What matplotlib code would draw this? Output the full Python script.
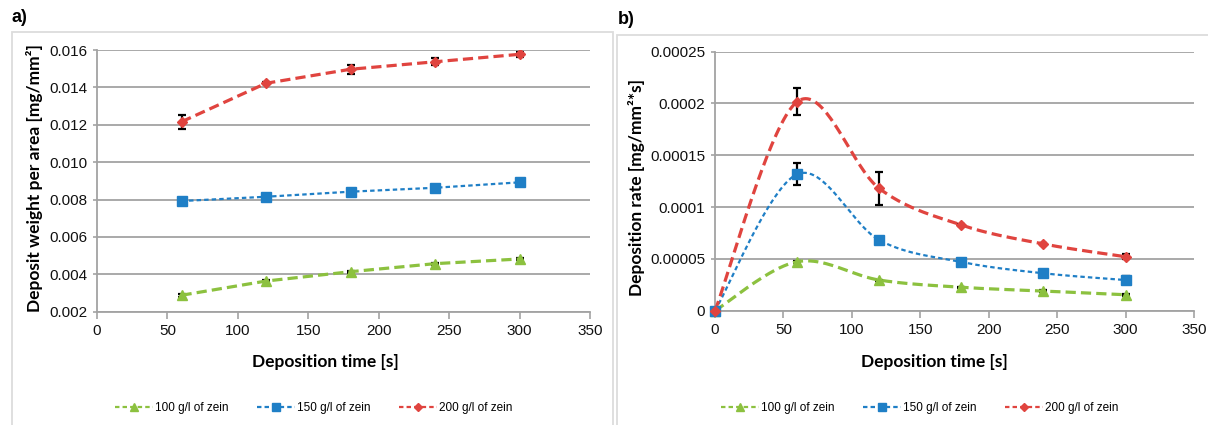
import numpy as np
import matplotlib
matplotlib.use("Agg")
import matplotlib.pyplot as plt
from matplotlib.patches import Rectangle
from matplotlib.lines import Line2D

# ---------------- data ----------------
time_a = [60, 120, 180, 240, 300]
w100 = [0.00288, 0.00364, 0.00414, 0.00457, 0.00482]
w150 = [0.00792, 0.00815, 0.00842, 0.00863, 0.00892]
w200 = [0.01216, 0.01422, 0.01497, 0.01537, 0.01577]
w100_err = [0.00008, 0.00004, 0.00005, 0.00006, 0.00006]
w150_err = [0.00008, 0.00006, 0.00006, 0.00006, 0.00008]
w200_err = [0.00036, 0.00005, 0.00025, 0.00018, 0.00012]

time_b = [0, 60, 120, 180, 240, 300]
r100 = [0.0, 0.0000473, 0.0000296, 0.0000226, 0.0000190, 0.0000154]
r150 = [0.0, 0.0001317, 0.0000682, 0.0000470, 0.0000361, 0.0000296]
r200 = [0.0, 0.0002017, 0.0001180, 0.0000827, 0.0000644, 0.0000521]
r100_err = [0.0, 0.0000010, 0.0000005, 0.0000005, 0.0000012, 0.0000012]
r150_err = [0.0, 0.0000106, 0.0000010, 0.0000010, 0.0000010, 0.0000035]
r200_err = [0.0, 0.0000129, 0.0000163, 0.0000010, 0.0000010, 0.0000025]

labels = ["100 g/l of zein", "150 g/l of zein", "200 g/l of zein"]
yticks_a = [0.002, 0.004, 0.006, 0.008, 0.010, 0.012, 0.014, 0.016]
yticks_b = [0, 0.00005, 0.0001, 0.00015, 0.0002, 0.00025]
yticklabels_b = ["0", "0.00005", "0.0001", "0.00015", "0.0002", "0.00025"]
xticks = [0, 50, 100, 150, 200, 250, 300, 350]

# ---------------- styles ----------------
GREEN = "#8cc13f"
BLUE = "#1f7fc6"
RED = "#e0443f"
GRID = "#a3a3a3"
TICKFONT = "Liberation Sans"
LABELFONT = ["Lato", "DejaVu Sans"]

styles = [
    dict(color=GREEN, marker="^", ms=6.5, lw=2.3, dashes=(3.2, 1.6)),
    dict(color=BLUE, marker="s", ms=7, lw=1.6, dashes=(2.0, 1.4)),
    dict(color=RED, marker="D", ms=5, lw=2.3, dashes=(3.2, 1.6)),
]


def excel_smooth(x, y, n=40):
    """Smooth curve through points using Catmull-Rom style Bezier (like Excel)."""
    x = np.asarray(x, float)
    y = np.asarray(y, float)
    P = np.column_stack([x, y])
    out = []
    m = len(P)
    for i in range(m - 1):
        p0 = P[i - 1] if i > 0 else P[i]
        p1 = P[i]
        p2 = P[i + 1]
        p3 = P[i + 2] if i + 2 < m else P[i + 1]
        c1 = p1 + (p2 - p0) / 6.0
        c2 = p2 - (p3 - p1) / 6.0
        t = np.linspace(0, 1, n)[:, None]
        seg = ((1 - t) ** 3) * p1 + 3 * ((1 - t) ** 2) * t * c1 + 3 * (1 - t) * t ** 2 * c2 + t ** 3 * p2
        if i > 0:
            seg = seg[1:]
        out.append(seg)
    out = np.vstack(out)
    return out[:, 0], out[:, 1]


W, H = 1208, 425
fig = plt.figure(figsize=(W / 100, H / 100), dpi=100)


def frac_x(px):
    return px / W


def frac_y(py):
    return 1 - py / H


# panel borders
fig.patches.append(Rectangle((frac_x(12), frac_y(440)), frac_x(613 - 12), (440 - 32) / H,
                             transform=fig.transFigure, fill=False, edgecolor="#dcdcdc", lw=1.3))
fig.patches.append(Rectangle((frac_x(617), frac_y(440)), frac_x(1215 - 617), (440 - 35) / H,
                             transform=fig.transFigure, fill=False, edgecolor="#dcdcdc", lw=1.3))

axA = fig.add_axes([frac_x(97), frac_y(311.7), frac_x(590 - 97), (311.7 - 50) / H])
axB = fig.add_axes([frac_x(715), frac_y(310.7), frac_x(1194 - 715), (310.7 - 51.7) / H])


def style_axes(ax):
    ax.set_xlim(0, 350)
    ax.set_xticks(xticks)
    ax.grid(axis="y", color=GRID, lw=1.3)
    ax.set_axisbelow(True)
    for s in ["top", "right"]:
        ax.spines[s].set_visible(False)
    for s in ["left", "bottom"]:
        ax.spines[s].set_color(GRID)
        ax.spines[s].set_linewidth(1.3)
    ax.tick_params(axis="both", colors=GRID, labelcolor="#111111", labelsize=11, width=1.2)
    ax.tick_params(axis="x", length=5, pad=4)
    ax.tick_params(axis="y", length=3, pad=4)
    for lab in ax.get_xticklabels() + ax.get_yticklabels():
        lab.set_fontfamily(TICKFONT)


# ---------- panel a ----------
style_axes(axA)
axA.set_ylim(0.002, 0.016)
axA.set_yticks(yticks_a)
axA.set_yticklabels([f"{v:.3f}" for v in yticks_a], fontfamily=TICKFONT)
for ys, es, st in zip([w100, w150, w200], [w100_err, w150_err, w200_err], styles):
    axA.errorbar(time_a, ys, yerr=es, fmt="none", ecolor="black", elinewidth=1.6, capsize=3, capthick=1.6, zorder=3)
    axA.plot(time_a, ys, color=st["color"], lw=st["lw"], dashes=st["dashes"], zorder=4)
    axA.plot(time_a, ys, ls="none", marker=st["marker"], ms=st["ms"], color=st["color"],
             markeredgecolor=st["color"], zorder=5)
axA.set_ylabel("Deposit weight per area [mg/mm²]", fontfamily=LABELFONT, fontweight="bold", fontsize=12.5)
axA.yaxis.set_label_coords(-0.127, 0.51)
axA.set_xlabel("Deposition time [s]", fontfamily=LABELFONT, fontweight="bold", fontsize=12.5)
axA.xaxis.set_label_coords(0.4625, -0.192)
axA.xaxis.label.set_va("center")
axA.yaxis.label.set_va("center")

# ---------- panel b ----------
style_axes(axB)
axB.set_ylim(0, 0.00025)
axB.set_yticks(yticks_b)
axB.set_yticklabels(yticklabels_b, fontfamily=TICKFONT)
for ys, es, st in zip([r100, r150, r200], [r100_err, r150_err, r200_err], styles):
    axB.errorbar(time_b, ys, yerr=es, fmt="none", ecolor="black", elinewidth=1.6, capsize=3, capthick=1.6, zorder=3)
    sx, sy = excel_smooth(time_b, ys)
    axB.plot(sx, sy, color=st["color"], lw=st["lw"], dashes=st["dashes"], zorder=4)
    axB.plot(time_b, ys, ls="none", marker=st["marker"], ms=st["ms"], color=st["color"],
             markeredgecolor=st["color"], zorder=5, clip_on=False)
axB.set_ylabel("Deposition rate [mg/mm²*s]", fontfamily=LABELFONT, fontweight="bold", fontsize=12.5)
axB.yaxis.set_label_coords(-0.163, 0.474)
axB.set_xlabel("Deposition time [s]", fontfamily=LABELFONT, fontweight="bold", fontsize=12.5)
axB.xaxis.set_label_coords(0.459, -0.198)
axB.xaxis.label.set_va("center")
axB.yaxis.label.set_va("center")

# panel letters
fig.text(frac_x(12), frac_y(18), "a)", fontsize=13, fontweight="bold", fontfamily=TICKFONT, va="center", ha="left")
fig.text(frac_x(618), frac_y(20), "b)", fontsize=13, fontweight="bold", fontfamily=TICKFONT, va="center", ha="left")

# legends
handles = [Line2D([0], [0], color=st["color"], lw=1.6, dashes=(2.0, 1.4), marker=st["marker"],
                  ms=st["ms"] * 0.8, markeredgecolor=st["color"]) for st in styles]
for cx in [314, 920]:
    fig.legend(handles, labels, loc="center", bbox_to_anchor=(frac_x(cx), frac_y(408)), ncol=3,
               frameon=False, prop={"family": TICKFONT, "size": 8.5}, handlelength=3.2,
               handletextpad=0.2, columnspacing=2.4, numpoints=1)

fig.savefig("out.png", dpi=100)
